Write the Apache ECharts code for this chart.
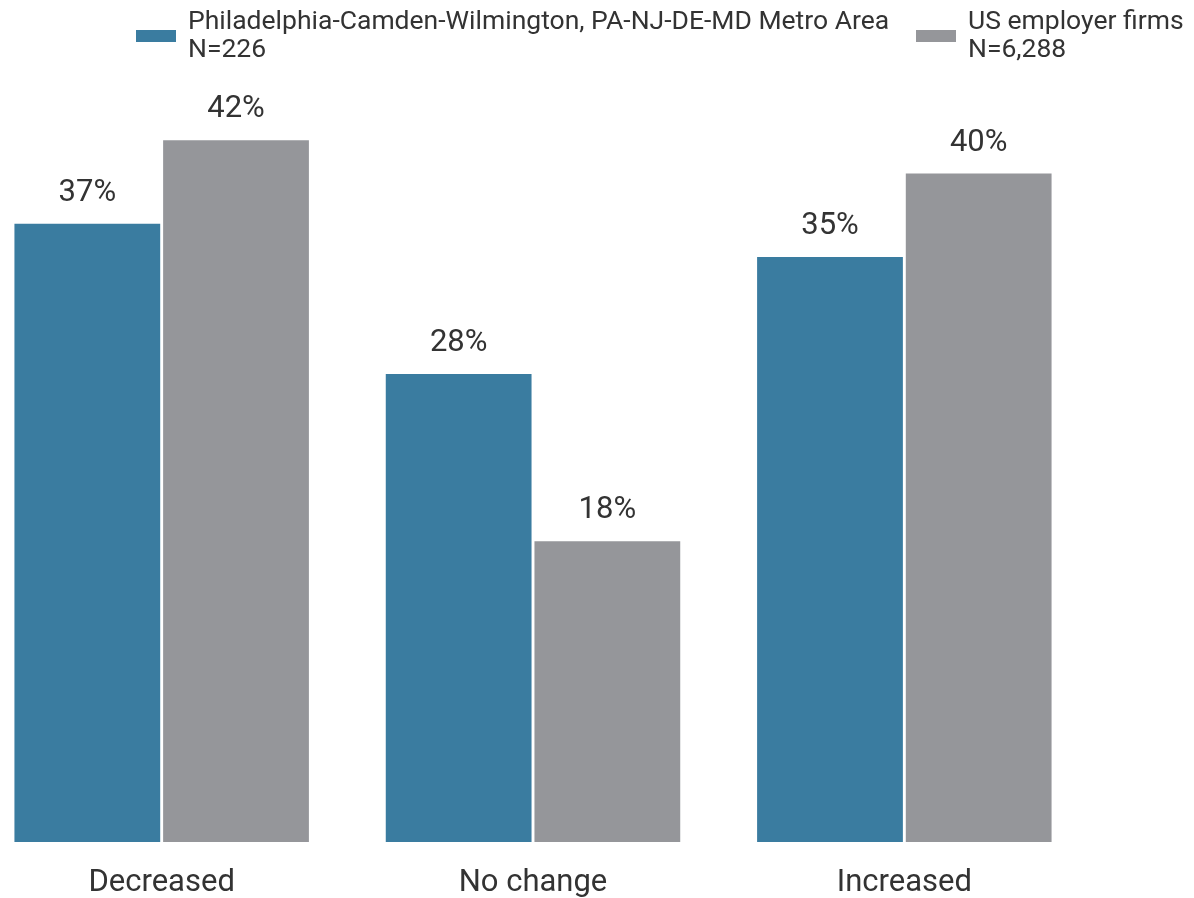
<!DOCTYPE html>
<html>
<head>
<meta charset="utf-8">
<script src="https://cdn.jsdelivr.net/npm/echarts@6/dist/echarts.min.js"></script>
<style>html,body{margin:0;padding:0;background:#fff}#chart{width:1194px;height:898px}</style>
</head>
<body>
<div id="chart"></div>
<script>
const categories = ['Decreased', 'No change', 'Increased'];
const seriesNames = ['Philadelphia-Camden-Wilmington, PA-NJ-DE-MD Metro Area\nN=226', 'US employer firms\nN=6,288'];
const metroValues = [37, 28, 35];
const usValues = [42, 18, 40];

const chart = echarts.init(document.getElementById('chart'), null, {renderer: 'canvas'});
const font = 'Roboto';
const labelStyle = {show: true, position: 'top', distance: 15, formatter: '{c}%', fontFamily: font, fontSize: 31, color: '#333333'};
const legendText = {fontFamily: font, fontSize: 26.5, color: '#333333', lineHeight: 28, padding: [0, 0, 0, 7]};
chart.setOption({
  animation: false,
  legend: [
    {data: [seriesNames[0]], left: 131, top: 3, itemWidth: 40, itemHeight: 12, icon: 'rect', textStyle: legendText},
    {data: [seriesNames[1]], left: 911, top: 3, itemWidth: 40, itemHeight: 12, icon: 'rect', textStyle: legendText}
  ],
  grid: {left: -24, right: 104, top: 90, bottom: 56, containLabel: false, outerBoundsMode: 'none'},
  xAxis: {
    type: 'category', data: categories,
    axisLine: {show: false}, axisTick: {show: false},
    axisLabel: {fontFamily: font, fontSize: 31, color: '#333333', margin: 26}
  },
  yAxis: {type: 'value', min: 0, max: 45, show: false, splitLine: {show: false}},
  series: [
    {name: seriesNames[0], type: 'bar', data: metroValues, barGap: '2%', barCategoryGap: '20.7%',
     itemStyle: {color: '#3A7CA0'}, label: labelStyle},
    {name: seriesNames[1], type: 'bar', data: usValues, barGap: '2%', barCategoryGap: '20.7%',
     itemStyle: {color: '#95969A'}, label: labelStyle}
  ]
});
</script>
</body>
</html>
